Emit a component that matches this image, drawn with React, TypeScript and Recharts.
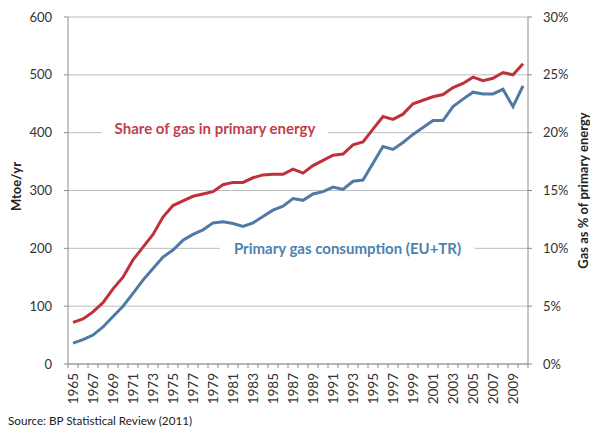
import { LineChart, Line, XAxis, YAxis, CartesianGrid, Label } from "recharts";

const years = [
  1965, 1966, 1967, 1968, 1969, 1970, 1971, 1972, 1973, 1974, 1975, 1976, 1977, 1978, 1979, 1980,
  1981, 1982, 1983, 1984, 1985, 1986, 1987, 1988, 1989, 1990, 1991, 1992, 1993, 1994, 1995, 1996,
  1997, 1998, 1999, 2000, 2001, 2002, 2003, 2004, 2005, 2006, 2007, 2008, 2009, 2010,
];

// Mtoe/yr, left axis
const consumption = [
  36, 42, 50, 64, 82, 100, 122, 145, 165, 185, 197, 214, 224, 232, 244, 246,
  243, 238, 244, 255, 266, 273, 286, 283, 294, 298, 306, 302, 316, 318, 347, 376,
  371, 383, 397, 409, 421, 421, 445, 458, 470, 467, 467, 475, 445, 481,
];

// % of primary energy, right axis
const share = [
  3.6, 3.9, 4.5, 5.3, 6.5, 7.5, 9.0, 10.1, 11.2, 12.7, 13.7, 14.1, 14.5, 14.7, 14.9, 15.5,
  15.7, 15.7, 16.1, 16.35, 16.4, 16.4, 16.85, 16.5, 17.15, 17.6, 18.05, 18.15, 18.95, 19.2, 20.3, 21.4,
  21.15, 21.6, 22.5, 22.8, 23.1, 23.3, 23.9, 24.25, 24.8, 24.5, 24.7, 25.2, 25.0, 25.95,
];

const leftTicks = [0, 100, 200, 300, 400, 500, 600];
const rightTicks = [0, 5, 10, 15, 20, 25, 30];
const yearLabels = years.filter((y) => y % 2 === 1);
const boundaries = [...years.map((y) => y - 0.5), 2010.5];

const data = years.map((year, i) => ({ year, consumption: consumption[i], share: share[i] }));

const RED = "#C0303C";
const BLUE = "#4F7AA6";
const FONT = "Lato, 'Open Sans', sans-serif";

const YearTick = ({ x, y, payload }: any) => (
  <text
    x={x}
    y={y}
    transform={`rotate(-90, ${x}, ${y})`}
    textAnchor="end"
    dominantBaseline="central"
    fontSize={13.5}
    fill="#333"
    fontFamily={FONT}
  >
    {payload.value}
  </text>
);

const AxisTitle = ({ viewBox, text, dx, dy = 0 }: any) => {
  const cx = viewBox.x + dx;
  const cy = viewBox.y + viewBox.height / 2 + dy;
  return (
    <text
      x={cx}
      y={cy}
      transform={`rotate(-90, ${cx}, ${cy})`}
      textAnchor="middle"
      dominantBaseline="central"
      fontSize={13}
      fontWeight={700}
      fill="#222"
      fontFamily={FONT}
    >
      {text}
    </text>
  );
};

const note = (color: string): React.CSSProperties => ({
  position: "absolute",
  background: "#fff",
  color,
  fontFamily: FONT,
  fontWeight: 700,
  fontSize: 15,
  lineHeight: "18px",
  textAlign: "center",
  whiteSpace: "nowrap",
});

export default function App() {
  return (
    <div style={{ position: "absolute", left: 0, top: 0, width: 590, height: 431, background: "#fff" }}>
      <LineChart width={590} height={431} data={data} margin={{ top: 17, right: 0, bottom: 0, left: 0 }}>
        <CartesianGrid vertical={false} stroke="#BDBDBD" xAxisId="ticks" yAxisId="left" />
        <XAxis
          xAxisId="years"
          dataKey="year"
          type="number"
          domain={[1964.5, 2010.5]}
          ticks={yearLabels}
          interval={0}
          height={62}
          axisLine={false}
          tickLine={false}
          tickSize={0}
          tickMargin={4}
          tick={<YearTick />}
        />
        <XAxis
          xAxisId="ticks"
          dataKey="year"
          type="number"
          domain={[1964.5, 2010.5]}
          ticks={boundaries}
          interval={0}
          height={5}
          tick={() => <g />}
          tickSize={4}
          stroke="#8C8C8C"
          tickLine={{ stroke: "#8C8C8C" }}
        />
        <YAxis
          yAxisId="left"
          domain={[0, 600]}
          ticks={leftTicks}
          interval={0}
          width={68}
          stroke="#8C8C8C"
          tickSize={4}
          tickMargin={12}
          tick={{ fontSize: 13, fill: "#333", fontFamily: FONT }}
        >
          <Label content={<AxisTitle text="Mtoe/yr" dx={16} dy={-4} />} />
        </YAxis>
        <YAxis
          yAxisId="right"
          orientation="right"
          domain={[0, 30]}
          ticks={rightTicks}
          interval={0}
          width={62}
          stroke="#8C8C8C"
          tickSize={4}
          tickMargin={11}
          tickFormatter={(v) => `${v}%`}
          tick={{ fontSize: 13, fill: "#333", fontFamily: FONT }}
        >
          <Label content={<AxisTitle text="Gas as % of primary energy" dx={55} />} />
        </YAxis>
        <Line
          xAxisId="years"
          yAxisId="left"
          dataKey="consumption"
          stroke={BLUE}
          strokeWidth={3}
          dot={false}
          isAnimationActive={false}
        />
        <Line
          xAxisId="years"
          yAxisId="right"
          dataKey="share"
          stroke={RED}
          strokeWidth={3}
          dot={false}
          isAnimationActive={false}
        />
      </LineChart>
      <div style={{ ...note("#C0404C"), left: 102, top: 119, width: 226 }}>Share of gas in primary energy</div>
      <div style={{ ...note("#4A82B0"), left: 220, top: 239, width: 255 }}>Primary gas consumption (EU+TR)</div>
      <div
        style={{
          position: "absolute",
          left: 8,
          top: 413,
          fontFamily: FONT,
          fontSize: 11.7,
          color: "#222",
        }}
      >
        Source: BP Statistical Review (2011)
      </div>
    </div>
  );
}
